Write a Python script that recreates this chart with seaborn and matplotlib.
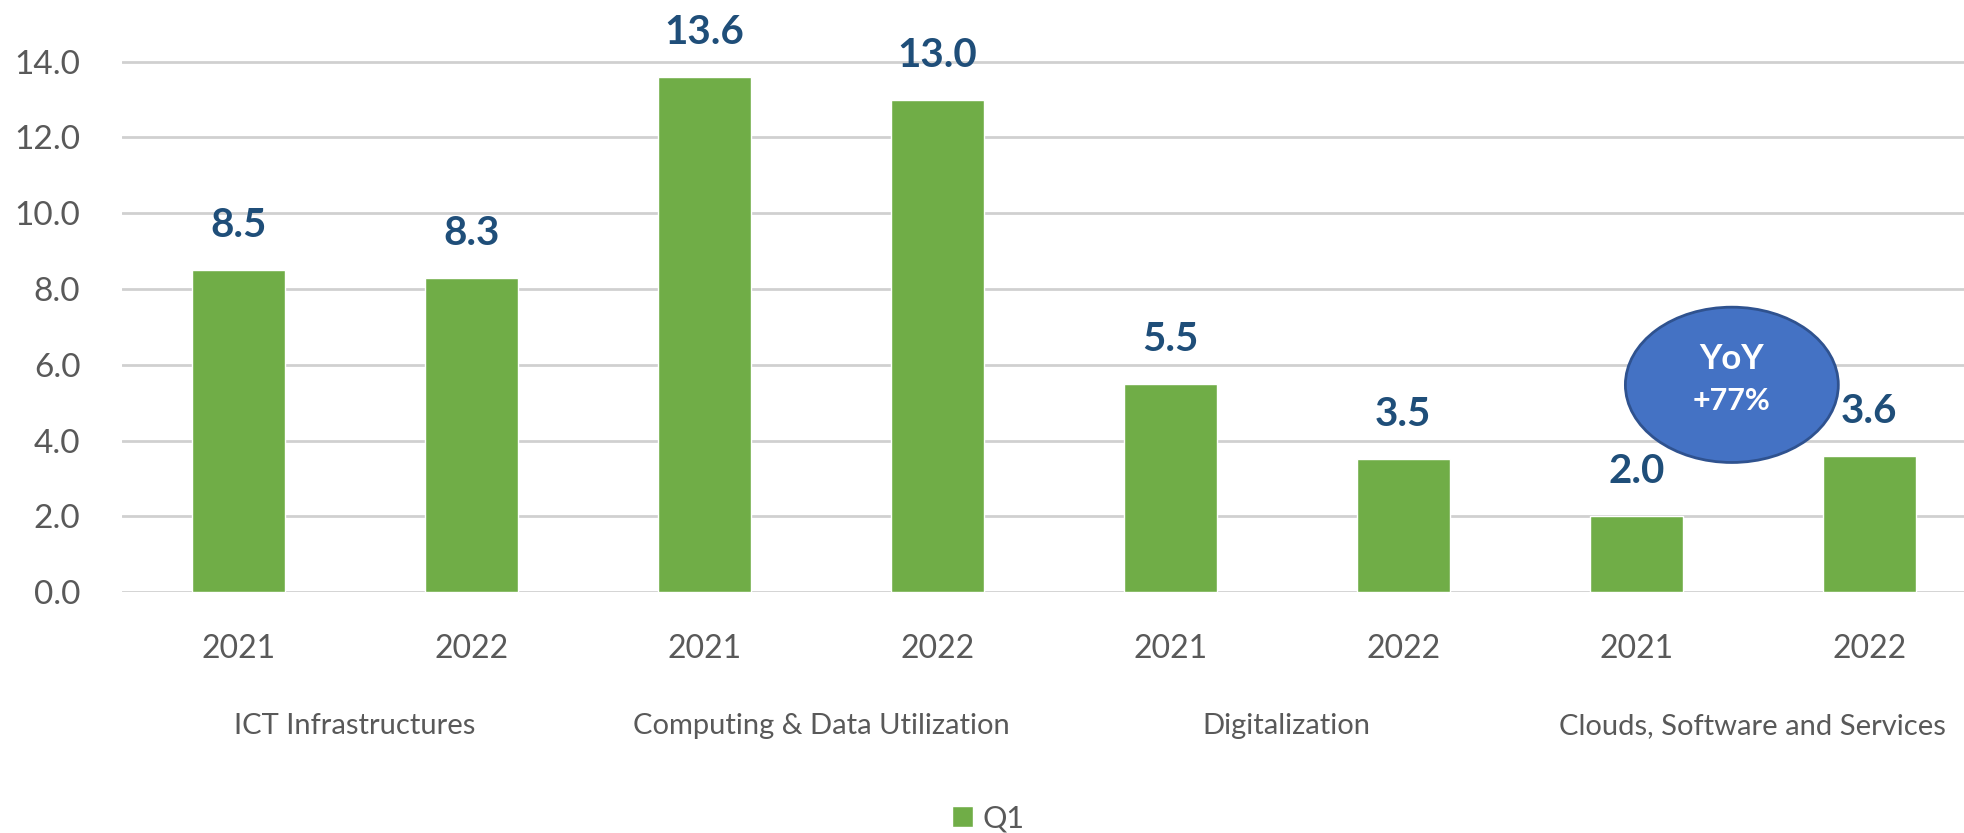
import pandas as pd
import seaborn as sns
import matplotlib.pyplot as plt
from matplotlib.patches import Ellipse

groups = ["ICT Infrastructures", "Computing & Data Utilization",
          "Digitalization", "Clouds, Software and Services"]
years = ["2021", "2022"]
values = [8.5, 8.3, 13.6, 13.0, 5.5, 3.5, 2.0, 3.6]
series = "Q1"

green = "#70AD47"
navy = "#1F4E79"
gray = "#595959"

if __name__ == '__main__':
    bars = [f"{g} {y}" for g in groups for y in years]
    data = pd.DataFrame({"bar": bars, "value": values, "series": series})

    sns.set_style("white")
    plt.rcParams['font.family'] = ['Lato', 'DejaVu Sans']

    fig = plt.figure(figsize=(19.64, 8.33), dpi=100)
    ax = fig.add_axes([0.0621, 0.2893, 0.949, 0.6375])

    sns.barplot(data=data, x="bar", y="value", hue="series", palette=[green],
                width=0.4, saturation=1, ax=ax, order=bars)

    ax.set_xlim(-0.5, 7.5)
    ax.set_ylim(0, 14.02)
    ax.set_yticks([0, 2, 4, 6, 8, 10, 12, 14])
    ax.set_yticklabels([f"{v:.1f}" for v in ax.get_yticks()])
    ax.yaxis.grid(True, color="#D0D0D0", linewidth=2)
    ax.set_axisbelow(True)
    for s in ax.spines.values():
        s.set_visible(False)
    ax.set_xlabel("")
    ax.set_ylabel("")
    ax.set_xticks(range(len(bars)))
    ax.set_xticklabels(years * len(groups))
    ax.tick_params(axis="x", length=0, pad=30, labelsize=23, labelcolor=gray)
    ax.tick_params(axis="y", length=0, pad=30, labelsize=24, labelcolor=gray)

    # category names under the year pairs
    sec = ax.secondary_xaxis("bottom")
    sec.set_xticks([0.5, 2.5, 4.5, 6.5])
    sec.set_xticklabels(groups)
    sec.tick_params(length=0, pad=87, labelsize=21, labelcolor=gray)
    sec.spines["bottom"].set_visible(False)

    for p, v in zip(ax.patches, values):
        ax.annotate(f"{v:.1f}", (p.get_x() + p.get_width() / 2, v),
                    xytext=(0, 32), textcoords="offset points",
                    ha="center", va="center", fontsize=29,
                    fontweight="bold", color=navy, annotation_clip=False)

    ell = Ellipse((6.41, 5.47), 0.914, 4.1, facecolor="#4472C4",
                  edgecolor="#2F528F", linewidth=2, zorder=5)
    ax.add_patch(ell)
    ax.text(6.41, 6.15, "YoY", ha="center", va="center", fontsize=25,
            fontweight="bold", color="white", zorder=6)
    ax.text(6.41, 5.05, "+77%", ha="center", va="center", fontsize=22,
            fontweight="bold", color="white", zorder=6)

    ax.legend(handles=ax.get_legend_handles_labels()[0], labels=[series],
              loc="center", bbox_to_anchor=(0.503, 0.018),
              bbox_transform=fig.transFigure, frameon=False,
              handlelength=0.7, handleheight=0.7, handletextpad=0.3,
              fontsize=22, labelcolor=gray)

    fig.savefig("out.png", dpi=100)
